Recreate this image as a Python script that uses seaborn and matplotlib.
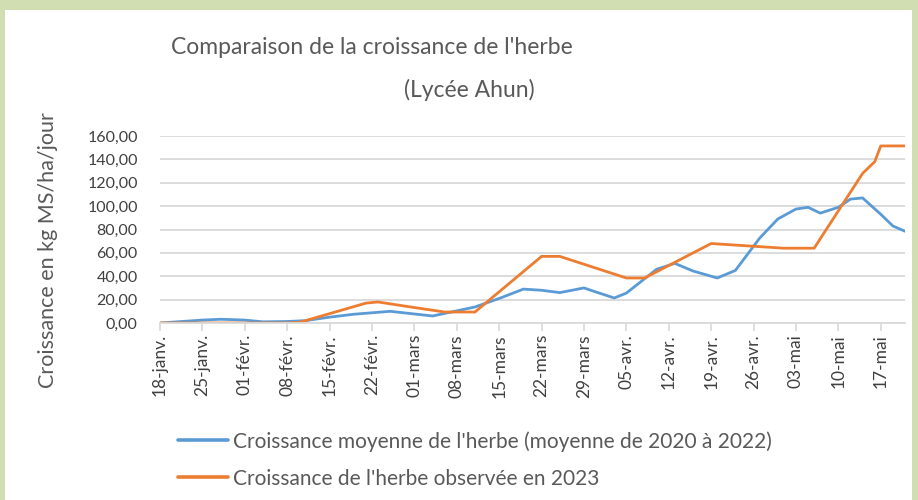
import numpy as np
import pandas as pd
import matplotlib
matplotlib.use("Agg")
import matplotlib.pyplot as plt
import matplotlib.transforms as mtrans
from matplotlib.patches import Rectangle
import seaborn as sns

# ---------------- data ----------------
series_names = ["Croissance moyenne de l'herbe (moyenne de 2020 à 2022)",
                "Croissance de l'herbe observée en 2023"]

blue_dates = ["2023-01-18", "2023-01-25", "2023-01-28", "2023-02-01", "2023-02-04",
              "2023-02-08", "2023-02-11", "2023-02-15", "2023-02-19", "2023-02-25",
              "2023-03-04", "2023-03-11", "2023-03-15", "2023-03-19", "2023-03-22",
              "2023-03-25", "2023-03-29", "2023-03-31", "2023-04-03", "2023-04-05",
              "2023-04-10", "2023-04-13", "2023-04-16", "2023-04-20", "2023-04-23",
              "2023-04-27", "2023-04-30", "2023-05-03", "2023-05-05", "2023-05-07",
              "2023-05-10", "2023-05-12", "2023-05-14", "2023-05-17", "2023-05-19",
              "2023-05-21"]
blue_values = [0.0, 2.5, 3.2, 2.5, 1.0,
               1.3, 2.0, 5.0, 7.5, 10.0,
               6.0, 13.7, 21.0, 29.0, 28.0,
               26.0, 30.0, 26.5, 21.4, 25.6,
               46.0, 51.0, 44.5, 38.5, 45.0,
               72.6, 89.0, 97.5, 99.0, 94.0,
               99.0, 106.0, 107.0, 93.0, 83.0,
               78.5]

orange_dates = ["2023-01-18", "2023-02-08", "2023-02-10", "2023-02-21", "2023-02-23",
                "2023-02-28", "2023-03-06", "2023-03-11", "2023-03-22", "2023-03-25",
                "2023-04-05", "2023-04-08", "2023-04-19", "2023-05-01", "2023-05-06",
                "2023-05-13", "2023-05-14", "2023-05-16", "2023-05-17", "2023-05-21"]
orange_values = [0.0, 0.0, 0.5, 17.0, 18.0,
                 14.0, 9.4, 9.4, 57.0, 57.0,
                 38.5, 38.5, 68.0, 64.0, 64.0,
                 120.0, 128.0, 138.0, 151.5, 151.5]

tick_dates = ["2023-01-18", "2023-01-25", "2023-02-01", "2023-02-08", "2023-02-15",
              "2023-02-22", "2023-03-01", "2023-03-08", "2023-03-15", "2023-03-22",
              "2023-03-29", "2023-04-05", "2023-04-12", "2023-04-19", "2023-04-26",
              "2023-05-03", "2023-05-10", "2023-05-17"]
tick_labels = ["18-janv.", "25-janv.", "01-févr.", "08-févr.", "15-févr.",
               "22-févr.", "01-mars", "08-mars", "15-mars", "22-mars",
               "29-mars", "05-avr.", "12-avr.", "19-avr.", "26-avr.",
               "03-mai", "10-mai", "17-mai"]
y_ticks = [0, 20, 40, 60, 80, 100, 120, 140, 160]

title_line1 = "Comparaison de la croissance de l'herbe"
title_line2 = "(Lycée Ahun)"
y_label = "Croissance en kg MS/ha/jour"

# ---------------- style ----------------
BLUE = "#5B9BD5"
ORANGE = "#ED7D31"
GRID = "#D9D9D9"
TXT = "#595959"

sns.set_theme(style="white")
plt.rcParams["font.family"] = ["Lato", "DejaVu Sans"]

W, H = 918, 500
fig = plt.figure(figsize=(W / 100, H / 100), dpi=100)
fig.patch.set_facecolor("#D1DEB2")
fig.patches.append(Rectangle((5 / W, 0), (912 - 5) / W, (H - 10) / H,
                             transform=fig.transFigure, facecolor="white",
                             edgecolor="none", zorder=-10))

ax = fig.add_axes([160 / W, 1 - 323 / H, (905 - 160) / W, (323 - 136) / H])
ax.set_zorder(2)
ax.set_facecolor("white")

df = pd.concat([
    pd.DataFrame({"date": pd.to_datetime(blue_dates), "value": blue_values,
                  "series": series_names[0]}),
    pd.DataFrame({"date": pd.to_datetime(orange_dates), "value": orange_values,
                  "series": series_names[1]}),
], ignore_index=True)

sns.lineplot(data=df, x="date", y="value", hue="series",
             palette=[BLUE, ORANGE], linewidth=2.0, ax=ax, legend=False,
             sort=False, estimator=None)

ax.set_xlim(pd.Timestamp("2023-01-18"), pd.Timestamp("2023-05-21"))
ax.set_ylim(0, 160)
ax.set_yticks(y_ticks)
ax.set_yticklabels([f"{v:.2f}".replace(".", ",") for v in y_ticks],
                   fontsize=11.5, color="#404040")
ax.set_xticks(pd.to_datetime(tick_dates))
ax.set_xticklabels(tick_labels, rotation=90, fontsize=12.5, color="#404040",
                   va="top", ha="center")
offset = mtrans.ScaledTranslation(4 / 100, 0, fig.dpi_scale_trans)
for lab in ax.get_xticklabels():
    lab.set_transform(lab.get_transform() + offset)

ax.grid(axis="y", color=GRID, linewidth=1.3)
ax.set_axisbelow(True)
for s in ["top", "right", "left"]:
    ax.spines[s].set_visible(False)
ax.spines["bottom"].set_color(GRID)
ax.spines["bottom"].set_linewidth(1.3)
ax.tick_params(axis="x", which="major", bottom=True, length=6, width=1.2,
               color=GRID, pad=2)
ax.tick_params(axis="y", length=0, pad=16)
ax.set_xlabel("")
ax.set_ylabel("")

fig.text(48 / W, 1 - 250 / H, y_label, rotation=90, ha="center", va="center",
         fontsize=15.5, color=TXT)

fig.text(372 / W, 1 - 48 / H, title_line1, ha="center", va="center",
         fontsize=16.5, color=TXT)
fig.text(469 / W, 1 - 90 / H, title_line2, ha="center", va="center",
         fontsize=16.5, color=TXT)

fs = 15
fpx = fs * 100 / 72
handles = ax.get_lines()[:2]
leg = fig.legend(handles, series_names, loc="upper left",
                 bbox_to_anchor=(178 / W, 1 - 431 / H), frameon=False,
                 fontsize=fs, handlelength=50 / fpx, handletextpad=5 / fpx,
                 labelspacing=(38 - fpx) / fpx, borderpad=0, borderaxespad=0)
for t in leg.get_texts():
    t.set_color(TXT)
for l in leg.get_lines():
    l.set_linewidth(2.6)

fig.savefig("out.png", dpi=100, facecolor=fig.get_facecolor())
